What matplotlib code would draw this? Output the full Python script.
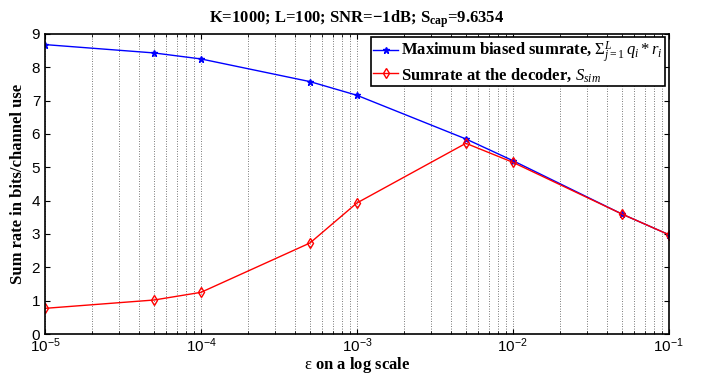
import numpy as np
import matplotlib
matplotlib.use("Agg")
import matplotlib.pyplot as plt
from matplotlib.ticker import LogLocator, NullFormatter

plt.rcParams["mathtext.fontset"] = "custom"
plt.rcParams["mathtext.rm"] = "Liberation Serif"
plt.rcParams["mathtext.it"] = "Liberation Serif:italic"
plt.rcParams["mathtext.bf"] = "Liberation Serif:bold"

eps = [1e-5, 5e-5, 1e-4, 5e-4, 1e-3, 5e-3, 1e-2, 5e-2, 1e-1]
biased = [8.68, 8.43, 8.25, 7.57, 7.16, 5.85, 5.20, 3.60, 2.98]
decoder = [0.77, 1.02, 1.25, 2.73, 3.93, 5.72, 5.15, 3.60, 2.98]

fig = plt.figure(figsize=(7.08, 3.77), dpi=100)
ax = fig.add_axes([0.0636, 0.114, 0.881, 0.796])

ax.plot(eps, biased, color="blue", marker="*", markersize=5, lw=1,
        label=r"Maximum biased sumrate, $\Sigma_{j=1}^{L}\, q_i * r_i$")
ax.plot(eps, decoder, color="red", marker="d", markersize=5.5, mfc="none", mew=1, lw=1,
        label=r"Sumrate at the decoder, $S_{sim}$")

ax.set_xscale("log")
ax.set_xlim(1e-5, 1e-1)
ax.set_ylim(0, 9)
ax.set_yticks(range(10))
ax.xaxis.set_minor_locator(LogLocator(base=10, subs=np.arange(2, 10)))
ax.xaxis.set_minor_formatter(NullFormatter())
ax.grid(True, axis="x", which="both", linestyle=(0, (1, 2)), color="0.3", lw=0.6)
ax.tick_params(direction="in", which="both", labelsize=11, top=True, right=True)
ax.tick_params(axis="x", pad=2)
for lbl in ax.get_xticklabels() + ax.get_yticklabels():
    lbl.set_family("Liberation Sans")
for s in ax.spines.values():
    s.set_linewidth(1.2)

ax.set_xlabel(r"$\mathrm{\varepsilon}$ on a log scale", family="Liberation Serif",
              fontweight="bold", fontsize=12, labelpad=0)
ax.set_ylabel("Sum rate in bits/channel use", family="Liberation Serif",
              fontweight="bold", fontsize=12)
ax.set_title(r"K=1000; L=100; SNR=$\mathbf{-}$1dB; S$_{\mathbf{cap}}$=9.6354",
             family="Liberation Serif", fontweight="bold", fontsize=12, pad=8)

leg = ax.legend(loc="upper right", prop={"family": "Liberation Serif", "weight": "bold", "size": 12},
                fancybox=False, edgecolor="black", framealpha=1, borderpad=0.15,
                handlelength=1.5, handletextpad=0.2, labelspacing=0.05, borderaxespad=0.2)
leg.get_frame().set_linewidth(1.2)

fig.savefig("out.png", dpi=100)
